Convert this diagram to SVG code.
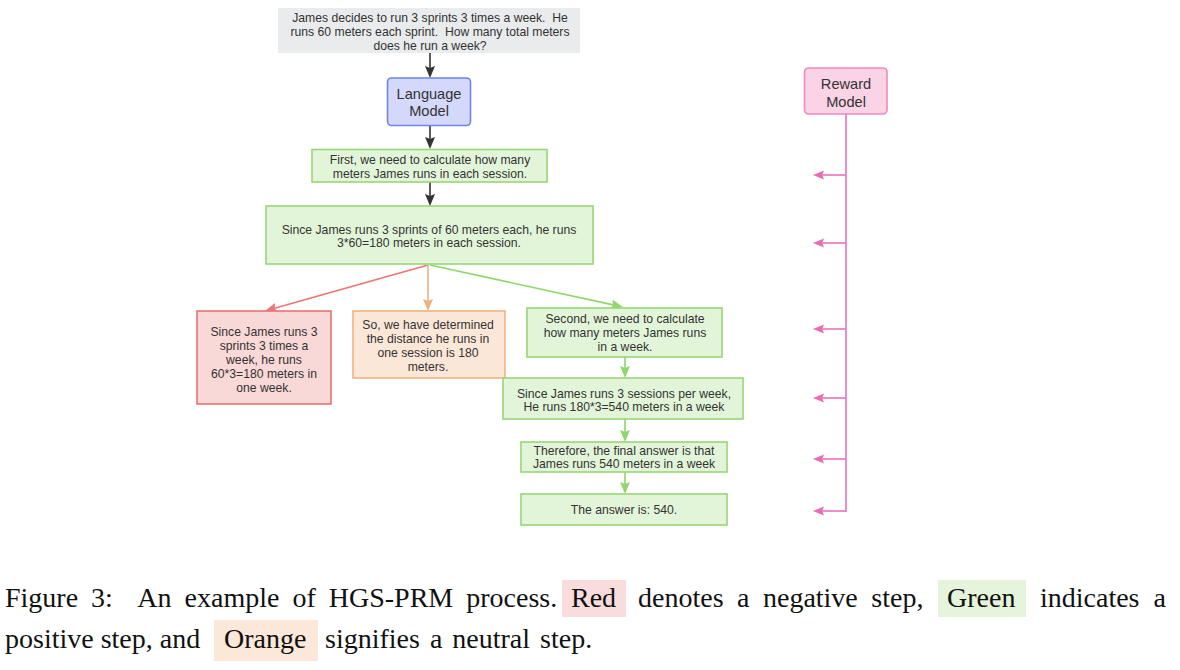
<svg xmlns="http://www.w3.org/2000/svg" width="1180" height="670" viewBox="0 0 1180 670">
<style>
  .t { font-family: "Liberation Sans", Arial, Helvetica, sans-serif; font-size: 12.2px; fill: #333; text-anchor: middle; }
  .tl { font-family: "Liberation Sans", Arial, Helvetica, sans-serif; font-size: 14.6px; fill: #333; text-anchor: middle; }
  .cap { font-family: "Liberation Serif", "Times New Roman", serif; font-size: 28px; fill: #111; }
  .green { fill: #e3f5d9; stroke: #97d676; stroke-width: 1.6; }
  .red { fill: #f9d8d8; stroke: #e87474; stroke-width: 1.6; }
  .orange { fill: #fbe7d8; stroke: #f2b27c; stroke-width: 1.6; }
  .blue { fill: #d4d8fa; stroke: #6f82ee; stroke-width: 1.6; }
  .pink { fill: #fad3e6; stroke: #f088c4; stroke-width: 1.6; }
  .gray { fill: #e9ebec; }
  .lk { stroke: #333; stroke-width: 1.6; fill: none; }
  .lr { stroke: #ec7474; stroke-width: 1.6; fill: none; }
  .lo { stroke: #f2b07a; stroke-width: 1.6; fill: none; }
  .lg { stroke: #8fd66c; stroke-width: 1.6; fill: none; }
  .lp { stroke: #ef80c0; stroke-width: 1.8; fill: none; }
</style>
<defs>
  <marker id="ak" viewBox="0 0 12 10" markerUnits="userSpaceOnUse" markerWidth="12" markerHeight="10" refX="2" refY="5" orient="auto"><path d="M0,0 L12,5 L0,10 L2,5 z" fill="#333"/></marker>
  <marker id="ar" viewBox="0 0 12 10" markerUnits="userSpaceOnUse" markerWidth="12" markerHeight="10" refX="2" refY="5" orient="auto"><path d="M0,0 L12,5 L0,10 L2,5 z" fill="#ec7474"/></marker>
  <marker id="ao" viewBox="0 0 12 10" markerUnits="userSpaceOnUse" markerWidth="12" markerHeight="10" refX="2" refY="5" orient="auto"><path d="M0,0 L12,5 L0,10 L2,5 z" fill="#f2b07a"/></marker>
  <marker id="ag" viewBox="0 0 12 10" markerUnits="userSpaceOnUse" markerWidth="12" markerHeight="10" refX="2" refY="5" orient="auto"><path d="M0,0 L12,5 L0,10 L2,5 z" fill="#8fd66c"/></marker>
  <marker id="ap" viewBox="0 0 12 10" markerUnits="userSpaceOnUse" markerWidth="11" markerHeight="9.2" refX="2" refY="5" orient="auto"><path d="M0,0 L12,5 L0,10 L2,5 z" fill="#e96cb2"/></marker>
</defs>
<rect width="1180" height="670" fill="#ffffff"/>

<g id="connectors">
  <line class="lk" x1="430" y1="53" x2="430" y2="68" marker-end="url(#ak)"/>
  <line class="lk" x1="430" y1="126" x2="430" y2="139" marker-end="url(#ak)"/>
  <line class="lk" x1="430" y1="182" x2="430" y2="196" marker-end="url(#ak)"/>
  <line class="lr" x1="428" y1="265" x2="274.6" y2="308.3" marker-end="url(#ar)"/>
  <line class="lo" x1="428" y1="265" x2="428" y2="301" marker-end="url(#ao)"/>
  <line class="lg" x1="430" y1="265" x2="613.2" y2="304.9" marker-end="url(#ag)"/>
  <line class="lg" x1="625" y1="357" x2="625" y2="368" marker-end="url(#ag)"/>
  <line class="lg" x1="625" y1="419" x2="625" y2="432" marker-end="url(#ag)"/>
  <line class="lg" x1="625" y1="472" x2="625" y2="484" marker-end="url(#ag)"/>
  <line class="lp" x1="846" y1="114" x2="846" y2="512"/>
  <line class="lp" x1="846" y1="175" x2="822.2" y2="175" marker-end="url(#ap)"/>
  <line class="lp" x1="846" y1="243" x2="822.2" y2="243" marker-end="url(#ap)"/>
  <line class="lp" x1="846" y1="329" x2="822.2" y2="329" marker-end="url(#ap)"/>
  <line class="lp" x1="846" y1="398" x2="822.2" y2="398" marker-end="url(#ap)"/>
  <line class="lp" x1="846" y1="459" x2="822.2" y2="459" marker-end="url(#ap)"/>
  <line class="lp" x1="846" y1="511" x2="822.2" y2="511" marker-end="url(#ap)"/>
</g>

<g id="question">
  <rect class="gray" x="278" y="8" width="302" height="45"/>
  <text class="t" xml:space="preserve"><tspan x="430" y="22">James decides to run 3 sprints 3 times a week.  He</tspan><tspan x="430" y="36">runs 60 meters each sprint.  How many total meters</tspan><tspan x="430" y="50">does he run a week?</tspan></text>
</g>

<g id="language-model">
  <rect class="blue" x="387.5" y="78" width="83" height="47.5" rx="4"/>
  <text class="tl"><tspan x="429" y="99">Language</tspan><tspan x="429" y="116">Model</tspan></text>
</g>

<g id="reward-model">
  <rect class="pink" x="804.5" y="68" width="82.5" height="46" rx="4"/>
  <text class="tl"><tspan x="846" y="89">Reward</tspan><tspan x="846" y="107">Model</tspan></text>
</g>

<g id="step1">
  <rect class="green" x="312" y="149.5" width="235" height="32.5"/>
  <text class="t"><tspan x="430" y="164">First, we need to calculate how many</tspan><tspan x="430" y="178">meters James runs in each session.</tspan></text>
</g>

<g id="step2">
  <rect class="green" x="266" y="206" width="327" height="58"/>
  <text class="t"><tspan x="429" y="234">Since James runs 3 sprints of 60 meters each, he runs</tspan><tspan x="429" y="247">3*60=180 meters in each session.</tspan></text>
</g>

<g id="step-negative">
  <rect class="red" x="197" y="311" width="134" height="93"/>
  <text class="t"><tspan x="264" y="336">Since James runs 3</tspan><tspan x="264" y="350">sprints 3 times a</tspan><tspan x="264" y="364">week, he runs</tspan><tspan x="264" y="378">60*3=180 meters in</tspan><tspan x="264" y="392">one week.</tspan></text>
</g>

<g id="step-neutral">
  <rect class="orange" x="353" y="311" width="152" height="67"/>
  <text class="t"><tspan x="428" y="329">So, we have determined</tspan><tspan x="428" y="343">the distance he runs in</tspan><tspan x="428" y="357">one session is 180</tspan><tspan x="428" y="371">meters.</tspan></text>
</g>

<g id="step3">
  <rect class="green" x="527" y="308" width="195" height="49"/>
  <text class="t"><tspan x="625" y="323">Second, we need to calculate</tspan><tspan x="625" y="337">how many meters James runs</tspan><tspan x="625" y="351">in a week.</tspan></text>
</g>

<g id="step4">
  <rect class="green" x="503" y="378" width="240" height="41"/>
  <text class="t"><tspan x="624" y="398">Since James runs 3 sessions per week,</tspan><tspan x="624" y="411">He runs 180*3=540 meters in a week</tspan></text>
</g>

<g id="step5">
  <rect class="green" x="521" y="442" width="206" height="30"/>
  <text class="t"><tspan x="624" y="455">Therefore, the final answer is that</tspan><tspan x="624" y="468">James runs 540 meters in a week</tspan></text>
</g>

<g id="step6">
  <rect class="green" x="521" y="494" width="206" height="31"/>
  <text class="t"><tspan x="624" y="514">The answer is: 540.</tspan></text>
</g>

<g id="caption">
  <rect x="562" y="580" width="64" height="37" fill="#f9dcdc"/>
  <rect x="938" y="580" width="88" height="37" fill="#e5f5dc"/>
  <rect x="214" y="620" width="104" height="41" fill="#fbe8d9"/>
  <text class="cap" x="5" y="607" xml:space="preserve" style="word-spacing:6px">Figure 3:  An example of HGS-PRM process.</text>
  <text class="cap" x="571" y="607">Red</text>
  <text class="cap" x="638" y="607" style="word-spacing:6.5px">denotes a negative step,</text>
  <text class="cap" x="947" y="607">Green</text>
  <text class="cap" x="1040" y="607" style="word-spacing:7px">indicates a</text>
  <text class="cap" x="5" y="648">positive step, and</text>
  <text class="cap" x="224" y="648">Orange</text>
  <text class="cap" x="325" y="648" style="word-spacing:3px">signifies a neutral step.</text>
</g>
</svg>
